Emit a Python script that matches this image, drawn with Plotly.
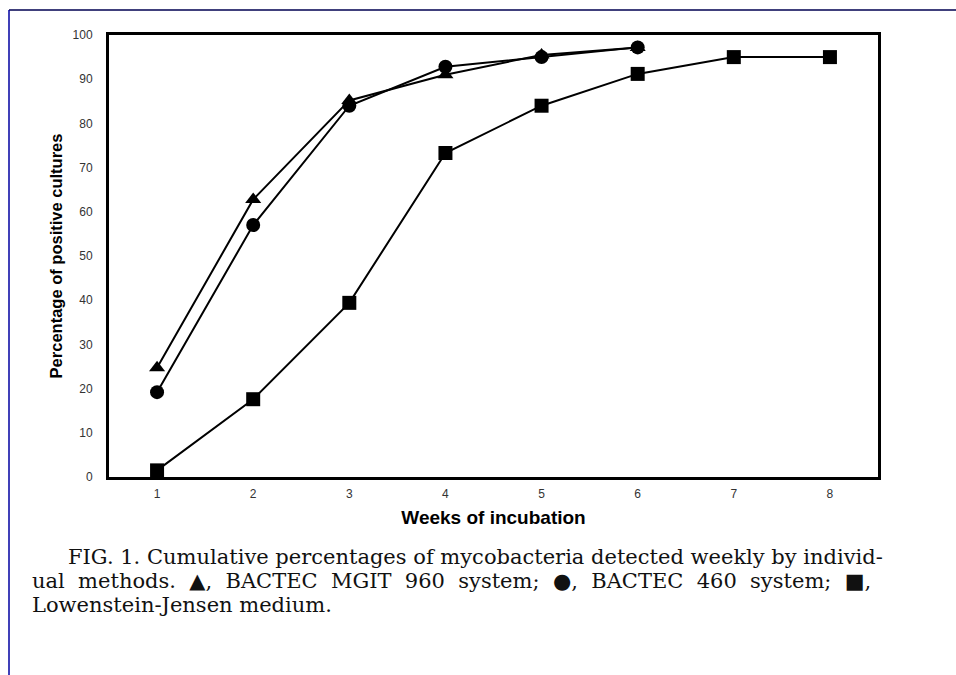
import plotly.graph_objects as go

weeks_mgit = [1, 2, 3, 4, 5, 6]
mgit960 = [24.7, 62.8, 85.2, 91.0, 95.5, 97.2]
weeks_460 = [1, 2, 3, 4, 5, 6]
bactec460 = [19.2, 57.0, 84.0, 92.8, 95.0, 97.2]
weeks_lj = [1, 2, 3, 4, 5, 6, 7, 8]
lj_medium = [1.5, 17.6, 39.4, 73.3, 84.0, 91.2, 95.0, 95.0]

x_ticks = [1, 2, 3, 4, 5, 6, 7, 8]
y_ticks = [0, 10, 20, 30, 40, 50, 60, 70, 80, 90, 100]

caption_lines = [
    "FIG. 1. Cumulative percentages of mycobacteria detected weekly by individ-",
    "ual methods. \u25b2, BACTEC MGIT 960 system; \u25cf, BACTEC 460 system; \u25a0,",
    "Lowenstein-Jensen medium.",
]
# extra space to mimic the justified caption lines
caption_extra_space = [0, 1, 0]

fig = go.Figure()
fig.add_trace(go.Scatter(x=weeks_mgit, y=mgit960, mode="lines+markers", name="BACTEC MGIT 960",
                         line=dict(color="black", width=2),
                         marker=dict(symbol="triangle-up", size=14, color="black")))
fig.add_trace(go.Scatter(x=weeks_460, y=bactec460, mode="lines+markers", name="BACTEC 460",
                         line=dict(color="black", width=2),
                         marker=dict(symbol="circle", size=14, color="black")))
fig.add_trace(go.Scatter(x=weeks_lj, y=lj_medium, mode="lines+markers", name="Lowenstein-Jensen",
                         line=dict(color="black", width=2),
                         marker=dict(symbol="square", size=14, color="black")))

W, H = 956, 675
ml, mr, mt, mb = 109, 78, 35, 198
pw, ph = W - ml - mr, H - mt - mb

def px(x):
    return (x - ml) / pw

def py(y):
    return (H - mb - y) / ph

fig.update_layout(
    width=W, height=H,
    margin=dict(l=ml, r=mr, t=mt, b=mb),
    paper_bgcolor="white", plot_bgcolor="white",
    showlegend=False,
    xaxis=dict(range=[0.5, 8.5], tickvals=x_ticks, showgrid=False, zeroline=False,
               showline=True, linecolor="black", linewidth=3, mirror=True, ticks="",
               ticklabelstandoff=4,
               tickfont=dict(family="Arial", size=12, color="#333"),
               title=dict(text="<b>Weeks of incubation</b>", font=dict(family="Arial", size=19, color="black"),
                          standoff=11)),
    yaxis=dict(range=[0, 100], tickvals=y_ticks, showgrid=False, zeroline=False,
               showline=True, linecolor="black", linewidth=3, mirror=True, ticks="",
               ticklabelstandoff=11,
               tickfont=dict(family="Arial", size=12, color="#333"),
               title=dict(text="<b>Percentage of positive cultures</b>", font=dict(family="Arial", size=16.5, color="black"),
                          standoff=6)),
)

# caption
cap_pos = [(66, 557), (30, 581), (30, 605)]
for txt, extra, (x, y) in zip(caption_lines, caption_extra_space, cap_pos):
    if extra:
        txt = txt.replace(" ", " " + "\u00a0" * extra)
    fig.add_annotation(text=txt, xref="paper", yref="paper", x=px(x), y=py(y),
                       xanchor="left", yanchor="middle", showarrow=False,
                       font=dict(family="DejaVu Serif", size=21, color="#111"))

# page frame lines
fig.add_shape(type="line", xref="paper", yref="paper", x0=px(9), x1=px(956), y0=py(10), y1=py(10),
              line=dict(color="#000050", width=1.5))
fig.add_shape(type="line", xref="paper", yref="paper", x0=px(9), x1=px(9), y0=py(10), y1=py(675),
              line=dict(color="#0000a0", width=1.5))

fig.write_html("out.html", config={"displayModeBar": False},
               post_script="document.body.style.margin='0';")
